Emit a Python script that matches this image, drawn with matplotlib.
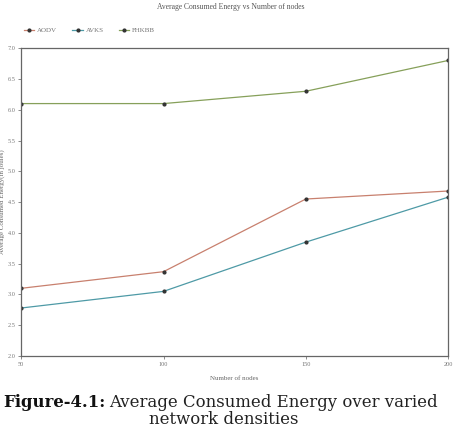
import matplotlib
matplotlib.use('Agg')
import matplotlib.pyplot as plt

# Data
nodes = [50, 100, 150, 200]
aodv = [3.1, 3.37, 4.55, 4.68]
avks = [2.78, 3.05, 3.85, 4.58]
fhkbb = [6.1, 6.1, 6.3, 6.8]
series_names = ['AODV', 'AVKS', 'FHKBB']
y_ticks = [2.0, 2.5, 3.0, 3.5, 4.0, 4.5, 5.0, 5.5, 6.0, 6.5, 7.0]

fig = plt.figure(figsize=(4.61, 4.30), dpi=100)
ax = fig.add_axes([0.046, 0.172, 0.926, 0.716])

ax.plot(nodes, aodv, color='#c8806e', lw=0.9, marker='o', ms=2, mfc='#333333', mec='#333333', label=series_names[0])
ax.plot(nodes, avks, color='#4e9aa6', lw=0.9, marker='o', ms=2, mfc='#333333', mec='#333333', label=series_names[1])
ax.plot(nodes, fhkbb, color='#86a05a', lw=0.9, marker='o', ms=2, mfc='#333333', mec='#333333', label=series_names[2])

ax.set_xlim(50, 200)
ax.set_ylim(2.0, 7.0)
ax.set_xticks(nodes)
ax.set_yticks(y_ticks)
ax.set_yticklabels(['%.1f' % v for v in y_ticks])
ax.tick_params(labelsize=4.5, colors='#777777', length=2, width=0.6, pad=2)
for s in ax.spines.values():
    s.set_color('#666666')
    s.set_linewidth(0.9)

ax.set_xlabel('Number of nodes', fontsize=5, color='#666666', family='Liberation Serif', labelpad=7)
ax.set_ylabel('Average Consumed Energy(in joules)', fontsize=5, color='#666666', family='Liberation Serif', labelpad=2)
for lbl in ax.get_xticklabels() + ax.get_yticklabels():
    lbl.set_family('Liberation Serif')

fig.text(0.5, 0.993, 'Average Consumed Energy vs Number of nodes', ha='center', va='top',
         fontsize=5.5, color='#555555', family='Liberation Serif')

ax.legend(loc='lower left', bbox_to_anchor=(0.0, 1.04), ncol=3, frameon=False,
          prop={'family': 'Liberation Serif', 'size': 5}, labelcolor='#777777',
          handlelength=1.5, handletextpad=0.4, columnspacing=2.2, borderaxespad=0)

# caption
t1 = fig.text(0.007, 0.064, 'Figure-4.1:', ha='left', va='center', fontsize=11.9,
              family='DejaVu Serif', weight='bold', color='#111111')
fig.canvas.draw()
bb = t1.get_window_extent()
x1 = bb.x1 / fig.bbox.width
fig.text(x1 + 0.008, 0.064, 'Average Consumed Energy over varied', ha='left', va='center',
         fontsize=11.9, family='DejaVu Serif', color='#222222')
fig.text(0.485, 0.024, 'network densities', ha='center', va='center', fontsize=11.9,
         family='DejaVu Serif', color='#222222')

fig.savefig('out.png', dpi=100)
